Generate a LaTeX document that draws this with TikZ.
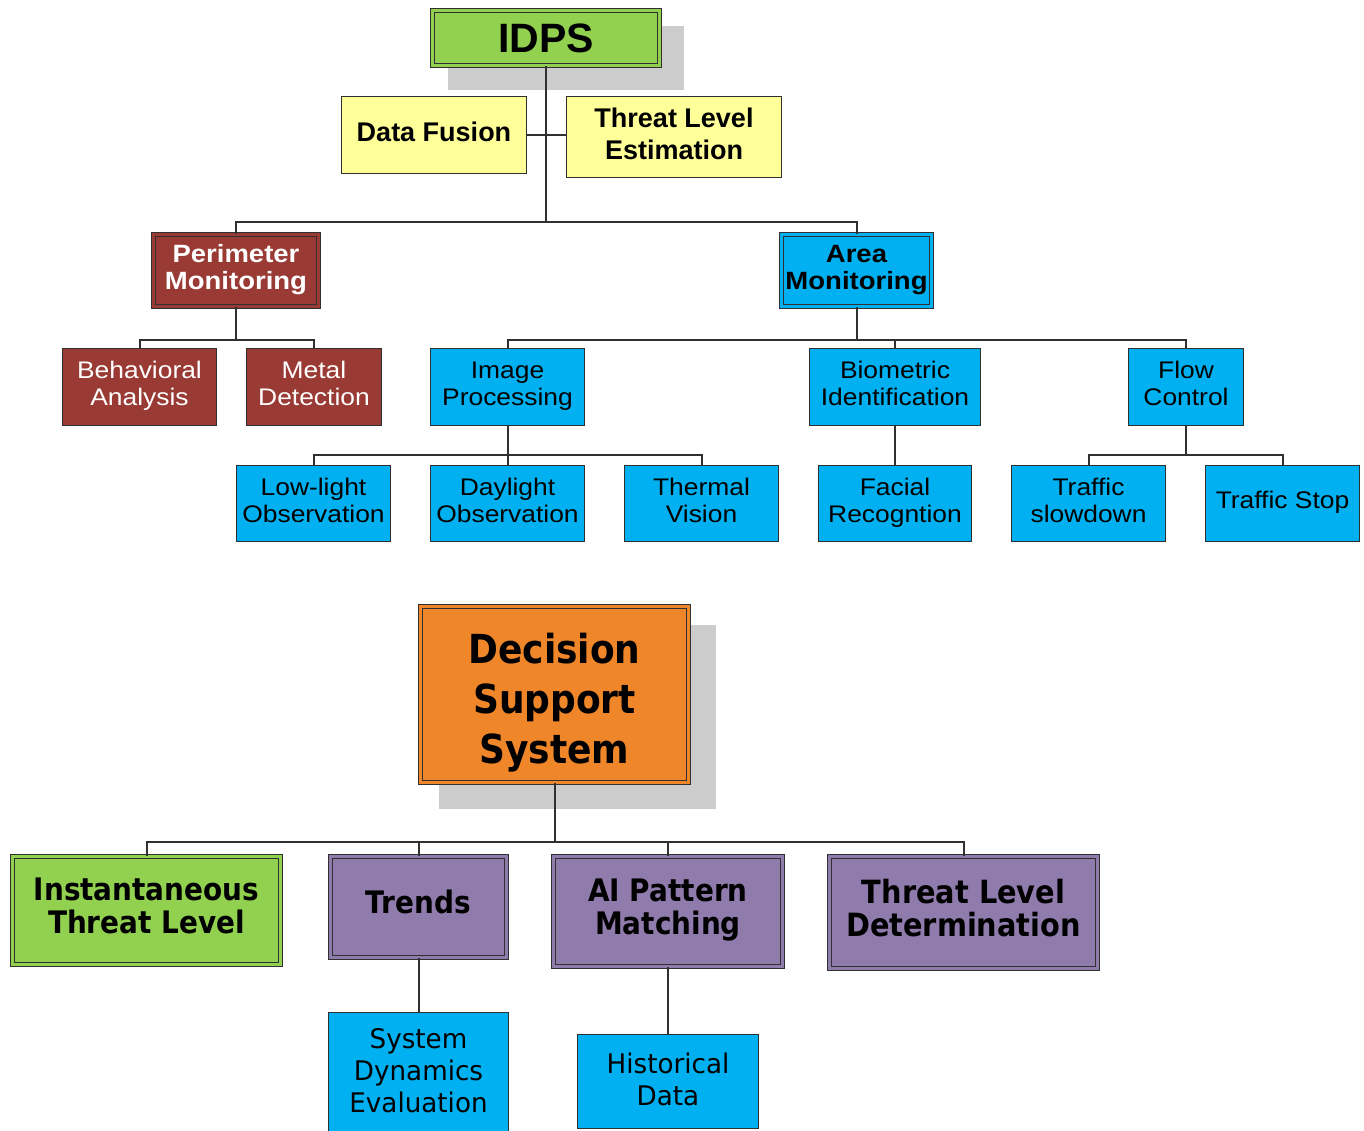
\documentclass[tikz,border=0pt]{standalone}
\usepackage{fontspec}
\usetikzlibrary{backgrounds}
\newfontfamily\arn{Liberation Sans}
\newfontfamily\arx[FakeStretch=1.1]{Liberation Sans}
\newfontfamily\tahb[FakeStretch=0.9]{DejaVu Sans}
\newfontfamily\tahr[FakeStretch=0.97]{DejaVu Sans}
\definecolor{cgreen}{HTML}{92D050}
\definecolor{cyellow}{HTML}{FFFF99}
\definecolor{cred}{HTML}{9A3A34}
\definecolor{ccyan}{HTML}{00B0F0}
\definecolor{corange}{HTML}{F0862A}
\definecolor{cpurple}{HTML}{907BAD}
\definecolor{cline}{HTML}{303030}
\definecolor{cshadow}{HTML}{CCCCCC}
% struts: first-line height and last-line depth, values set by the node style
\def\myTval{0}\def\myBval{0}
\newcommand\stt{\rule{0pt}{\myTval pt}}
\newcommand\stb{\rule[-\myBval pt]{0pt}{\myBval pt}}
\tikzset{
  box/.style={rectangle, draw=cline, line width=1.4pt, inner sep=0pt, align=center, text=black},
  dbl/.style={rectangle, draw=cline, fill=#1, double=#1, double distance=2.6pt, line width=1.3pt, inner sep=0pt, align=center, text=black},
  conn/.style={draw=cline, line width=2pt},
  tb/.style 2 args={execute at begin node={\def\myTval{#1}\def\myBval{#2}}},
  ftop/.style={font=\arn\bfseries\fontsize{41}{44}\selectfont},
  fsec/.style={font=\arn\bfseries\fontsize{27}{32}\selectfont, tb={22.4}{9.6}},
  fmid/.style={font=\arx\bfseries\fontsize{25}{27}\selectfont, tb={18.9}{8.1}},
  fleaf/.style={font=\arx\fontsize{24}{27}\selectfont, tb={18.9}{8.1}},
  fdss/.style={font=\tahb\bfseries\fontsize{40}{50}\selectfont, tb={50}{13}},
  fbot/.style={font=\tahb\bfseries\fontsize{#1}{33}\selectfont, tb={23.1}{9.9}},
  fbleaf/.style={font=\tahr\fontsize{27}{32}\selectfont, tb={24.6}{9.6}},
}
\begin{document}
\begin{tikzpicture}[x=1pt,y=-1pt]
\useasboundingbox (0,0) rectangle (1364,1131);
% ---- top tree ----
\node[dbl=cgreen, ftop, minimum width=227pt, minimum height=55pt] (idps) at (546,38) {IDPS};
\begin{scope}[on background layer]
  \fill[cshadow] ([shift={(16.5,16.5)}]idps.north west) rectangle ([shift={(23.5,23.5)}]idps.south east);
\end{scope}
\node[box, fill=cyellow, fsec, minimum width=185pt, minimum height=77pt] (df) at (434,135) {\stt Data Fusion\stb};
\node[box, fill=cyellow, fsec, minimum width=215pt, minimum height=81pt] (te) at (674,137) {\stt Threat Level\\Estimation\stb};

\node[dbl=cred, fmid, text=white, minimum width=165pt, minimum height=72pt] (perim) at (236,270.5) {\stt Perimeter\\Monitoring\stb};
\node[dbl=ccyan, fmid, minimum width=150pt, minimum height=72pt] (area) at (856.5,270.5) {\stt Area\\Monitoring\stb};

\node[box, fill=cred, fleaf, text=white, minimum width=154pt, minimum height=77pt] (beh) at (139.5,387) {\stt Behavioral\\Analysis\stb};
\node[box, fill=cred, fleaf, text=white, minimum width=135pt, minimum height=77pt] (met) at (314,387) {\stt Metal\\Detection\stb};
\node[box, fill=ccyan, fleaf, minimum width=154pt, minimum height=77pt] (img) at (507.5,387) {\stt Image\\Processing\stb};
\node[box, fill=ccyan, fleaf, minimum width=171pt, minimum height=77pt] (bio) at (895,387) {\stt Biometric\\Identification\stb};
\node[box, fill=ccyan, fleaf, minimum width=115pt, minimum height=77pt] (flow) at (1186,387) {\stt Flow\\Control\stb};

\node[box, fill=ccyan, fleaf, minimum width=154pt, minimum height=76pt] (low) at (313.5,503.5) {\stt Low-light\\Observation\stb};
\node[box, fill=ccyan, fleaf, minimum width=154pt, minimum height=76pt] (day) at (507.5,503.5) {\stt Daylight\\Observation\stb};
\node[box, fill=ccyan, fleaf, minimum width=154pt, minimum height=76pt] (therm) at (701.5,503.5) {\stt Thermal\\Vision\stb};
\node[box, fill=ccyan, fleaf, minimum width=153pt, minimum height=76pt] (fac) at (895,503.5) {\stt Facial\\Recogntion\stb};
\node[box, fill=ccyan, fleaf, minimum width=154pt, minimum height=76pt] (slow) at (1088.5,503.5) {\stt Traffic\\slowdown\stb};
\node[box, fill=ccyan, fleaf, minimum width=154pt, minimum height=76pt] (stop) at (1282.5,503.5) {\stt Traffic Stop\stb};

\coordinate (j1) at (546,222);
\coordinate (j2) at (236,340);
\coordinate (j3) at (856.5,340);
\coordinate (j4) at (507.5,455);
\coordinate (j5) at (1186,455);
\draw[conn] (idps.south) -- (j1);
\draw[conn] (df.east) -- (df.east -| te.west);
\draw[conn] (perim.north) |- (j1) -| (area.north);
\draw[conn] (perim.south) -- (j2);
\draw[conn] (beh.north) |- (j2) -| (met.north);
\draw[conn] (area.south) -- (j3);
\draw[conn] (img.north) |- (j3) -| (flow.north);
\draw[conn] (bio.north) -- (bio.north |- j3);
\draw[conn] (img.south) -- (j4);
\draw[conn] (low.north) |- (j4) -| (therm.north);
\draw[conn] (day.north) -- (j4);
\draw[conn] (bio.south) -- (fac.north);
\draw[conn] (flow.south) -- (j5);
\draw[conn] (slow.north) |- (j5) -| (stop.north);

% ---- bottom tree ----
\node[dbl=corange, fdss, minimum width=268pt, minimum height=176pt] (dss) at (554.5,694.5) {\stt Decision\\Support\\System\stb};
\begin{scope}[on background layer]
  \fill[cshadow] ([shift={(19.5,19.5)}]dss.north west) rectangle ([shift={(26.5,25.5)}]dss.south east);
\end{scope}
\node[dbl=cgreen, fbot=31, minimum width=268pt, minimum height=108pt] (inst) at (146.5,910.5) {\stt Instantaneous\\Threat Level\stb};
\node[dbl=cpurple, fbot=31, minimum width=176pt, minimum height=101pt] (trends) at (418.5,907) {\stt Trends\stb};
\node[dbl=cpurple, fbot=31, minimum width=229pt, minimum height=110pt] (ai) at (668,911.5) {\stt AI Pattern\\Matching\stb};
\node[dbl=cpurple, fbot=32, minimum width=268pt, minimum height=112pt] (tld) at (963.5,912.5) {\stt Threat Level\\Determination\stb};
\node[box, fill=ccyan, fbleaf, minimum width=180pt, minimum height=120pt] (sde) at (418.5,1072.5) {\stt System\\Dynamics\\Evaluation\stb};
\node[box, fill=ccyan, fbleaf, minimum width=181pt, minimum height=94pt] (hist) at (668,1081.5) {\stt Historical\\Data\stb};

\coordinate (j6) at (554.5,842);
\draw[conn] (dss.south) -- (j6);
\draw[conn] (inst.north) |- (j6) -| (tld.north);
\draw[conn] (trends.north) -- (trends.north |- j6);
\draw[conn] (ai.north) -- (ai.north |- j6);
\draw[conn] (trends.south) -- (sde.north);
\draw[conn] (ai.south) -- (hist.north);
\end{tikzpicture}
\end{document}
